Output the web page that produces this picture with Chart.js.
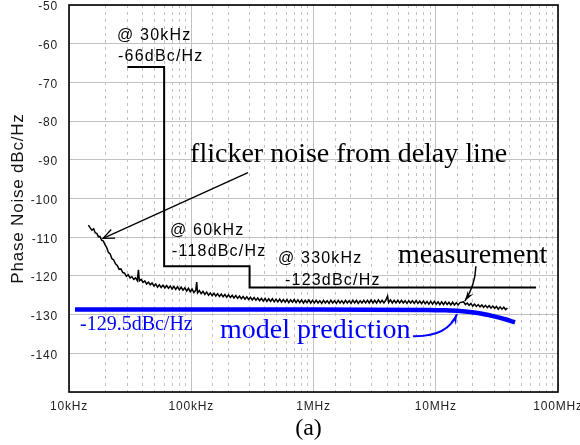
<!DOCTYPE html>
<html>
<head>
<meta charset="utf-8">
<script src="https://cdn.jsdelivr.net/npm/chart.js@4"></script>
<style>
  html, body { margin: 0; padding: 0; background: #fff; }
</style>
</head>
<body>
<canvas id="chart" width="580" height="445"></canvas>
<script>
// ===== DATA =====
// x ticks (Hz) and their labels
const xTickValues = [1e4, 1e5, 1e6, 1e7, 1e8];
const xTickLabels = ["10kHz", "100kHz", "1MHz", "10MHz", "100MHz"];

// spec mask (step line)
const maskFreq = [30e3, 60e3, 60e3, 300e3, 300e3, 66e6];
const maskDb = [-66, -66, -117.5, -117.5, -123, -123];

// model prediction
const modelKHz = [11.2, 1000, 8500, 12000, 15800, 22000, 29400, 37000, 44500];
const modelDb = [-128.7, -128.7, -128.8, -128.9, -129.1, -129.6, -130.4, -131.2, -132.0];

const measKHz = [
  14.4, 14.9, 15.4, 15.9, 16.4, 16.9, 17.4, 17.9, 18.5, 19.1, 19.7, 20.3, 21.0, 21.7, 22.4, 23.2,
  24.0, 24.8, 25.7, 26.6, 27.5, 28.5, 29.5, 30.5, 31.6, 32.7, 33.8, 35.0, 36.2, 37.0, 37.6, 38.9,
  40.3, 41.7, 43.1, 44.6, 46.2, 47.8, 49.5, 51.2, 53.0, 54.8, 56.7, 58.7, 60.8, 62.9, 65.1, 67.4,
  69.7, 72.1, 74.6, 77.2, 79.9, 82.7, 85.6, 88.6, 91.7, 94.9, 98.2, 101.6, 105.1, 108.8, 110.8, 112.6,
  116.5, 120.6, 124.8, 129.2, 133.7, 138.4, 143.2, 148.2, 153.4, 158.7, 164.3, 170.0, 176.0, 182.1,
  188.5, 195.1, 201.9, 209.0, 216.3, 223.8, 231.6, 239.7, 248.1, 256.8, 265.8, 275.1, 284.7, 294.7,
  305.0, 315.7, 326.7, 338.1, 350.0, 362.2, 374.9, 388.0, 401.6, 415.6, 430.2, 445.2, 460.8, 476.9,
  493.6, 510.9, 528.8, 547.3, 566.4, 586.2, 606.7, 627.9, 649.9, 672.6, 696.2, 720.5, 745.7, 771.8,
  798.8, 826.8, 855.7, 885.6, 916.6, 948.7, 981.9, 1016, 1052, 1089, 1127, 1167, 1208, 1250, 1294,
  1340, 1387, 1435, 1486, 1538, 1592, 1648, 1705, 1765, 1827, 1891, 1957, 2026, 2097, 2170, 2246,
  2325, 2407, 2491, 2578, 2669, 2762, 2859, 2959, 3063, 3170, 3281, 3396, 3515, 3638, 3766, 3898,
  4035, 4120, 4264, 4413, 4568, 4728, 4894, 5065, 5243, 5426, 5616, 5813, 6017, 6228, 6446, 6672,
  6906, 7148, 7398, 7657, 7926, 8203, 8491, 8788, 9096, 9414, 9744, 10085, 10438, 10804, 11182, 11573,
  11978, 12397, 12831, 13280, 13745, 14226, 14724, 15239, 15773, 16325, 16896, 17488, 18100, 18733,
  19389, 20067, 20770, 21497, 22249, 23028, 23834, 24668, 25531, 26425, 27350, 28307, 29298, 30323,
  31385, 32483, 33620, 34797, 36015, 37275, 38580
];
const measDb = [
  -106.9, -107.6, -108.2, -107.8, -108.9, -109.0, -109.9, -109.8, -110.8, -111.0, -111.9, -112.6, -113.9, -114.3, -115.5, -115.9,
  -116.9, -117.3, -118.3, -118.2, -119.1, -119.3, -120.1, -119.7, -120.5, -120.2, -120.9, -120.5, -121.2, -118.4, -121.3, -120.9,
  -121.7, -121.3, -122.1, -121.6, -122.3, -121.8, -122.6, -122.1, -122.9, -122.3, -123.0, -122.4, -123.1, -122.5, -123.2, -122.6,
  -123.4, -122.7, -123.5, -122.8, -123.6, -122.9, -123.7, -123.1, -123.9, -123.2, -124.1, -123.4, -124.3, -123.7, -121.6, -124.4,
  -123.8, -124.6, -124.0, -124.8, -124.2, -125.0, -124.4, -125.1, -124.5, -125.2, -124.6, -125.3, -124.7, -125.4,
  -124.8, -125.5, -124.9, -125.6, -125.0, -125.7, -125.1, -125.8, -125.2, -125.9, -125.3, -126.0, -125.4, -126.1,
  -125.5, -126.2, -125.6, -126.3, -125.7, -126.4, -125.8, -126.5, -125.8, -126.6, -125.9, -126.6, -125.9, -126.7,
  -126.0, -126.7, -126.0, -126.8, -126.1, -126.8, -126.1, -126.9, -126.2, -126.8, -126.1, -126.9, -126.2, -126.9,
  -126.2, -127.0, -126.3, -126.9, -126.2, -127.0, -126.3, -127.0, -126.3, -127.0, -126.4, -127.1, -126.3, -127.0, -126.4,
  -127.1, -126.3, -127.0, -126.4, -127.1, -126.3, -127.0, -126.4, -127.1, -126.3, -127.0, -126.4, -127.1, -126.3, -127.0, -126.3,
  -127.1, -126.4, -127.0, -126.3, -127.0, -126.3, -127.0, -126.2, -127.0, -126.3, -127.0, -126.2, -126.9, -126.3, -127.0, -126.3,
  -125.2, -126.9, -126.2, -127.0, -126.3, -127.0, -126.3, -127.0, -126.3, -127.0, -126.4, -127.1, -126.4, -127.0, -126.4, -127.1,
  -126.4, -127.1, -126.5, -127.2, -126.5, -127.2, -126.6, -127.3, -126.6, -127.3, -126.6, -127.3, -126.7, -127.4, -126.7, -127.4,
  -126.7, -127.4, -126.8, -127.5, -126.8, -127.5, -126.9, -127.5, -126.9, -126.8, -126.7, -127.4, -127.0, -127.6,
  -127.1, -127.8, -127.3, -127.9, -127.4, -128.0, -127.5, -128.1, -127.6, -128.2, -127.7, -128.3, -127.8, -128.4,
  -127.9, -128.6, -128.0, -128.6, -128.1, -128.7, -128.3
];

// ===== ANNOTATIONS (placed in data space) =====
const SANS = '"Liberation Sans", Arial, sans-serif';
const SERIF = '"Liberation Serif", "Times New Roman", serif';
const notes = [
  { text: "@ 30kHz", f: 24.7e3, db: -58.0, font: "16px " + SANS, color: "#000", base: "middle", sp: "1.2px" },
  { text: "-66dBc/Hz", f: 25.2e3, db: -63.4, font: "16px " + SANS, color: "#000", base: "middle", sp: "1.2px" },
  { text: "@ 60kHz", f: 67e3, db: -108.25, font: "16px " + SANS, color: "#000", base: "middle", sp: "1.2px" },
  { text: "-118dBc/Hz", f: 69.6e3, db: -113.7, font: "16px " + SANS, color: "#000", base: "middle", sp: "1.2px" },
  { text: "@ 330kHz", f: 512e3, db: -115.5, font: "16px " + SANS, color: "#000", base: "middle", sp: "1.2px" },
  { text: "-123dBc/Hz", f: 585e3, db: -121.1, font: "16px " + SANS, color: "#000", base: "middle", sp: "1.2px" },
  { text: "flicker noise from delay line", f: 97.8e3, db: -90.5, font: "28px " + SERIF, color: "#000", base: "alphabetic", sp: "0px" },
  { text: "measurement", f: 4.91e6, db: -116.75, font: "28px " + SERIF, color: "#000", base: "alphabetic", sp: "0px" },
  { text: "model prediction", f: 172e3, db: -136.1, font: "28px " + SERIF, color: "#0000ff", base: "alphabetic", sp: "0px" },
  { text: "-129.5dBc/Hz", f: 12.3e3, db: -134.0, font: "20px " + SERIF, color: "#0000ff", base: "alphabetic", sp: "0px" }
];
const arrows = [
  { pts: [[291e3, -93.3], [19.0e3, -110.3]], color: "#000", width: 1.3, filled: false },
  { pts: [[21.3e6, -117.5], [21.0e6, -122.5], [17.3e6, -126.5]], color: "#000", width: 1.5, filled: true },
  { pts: [[6.52e6, -135.6], [12.5e6, -135.8], [14.9e6, -129.9]], color: "#0000ff", width: 2, filled: true }
];

function isDecade(v) {
  let l = Math.log10(v);
  return Math.abs(l - Math.round(l)) < 1e-6;
}

function drawArrow(ctx, p, color, width, filled) {
  ctx.strokeStyle = color;
  ctx.fillStyle = color;
  ctx.lineWidth = width;
  ctx.beginPath();
  ctx.moveTo(p[0][0], p[0][1]);
  if (p.length === 3) ctx.quadraticCurveTo(p[1][0], p[1][1], p[2][0], p[2][1]);
  else ctx.lineTo(p[1][0], p[1][1]);
  ctx.stroke();

  let tip = p[p.length - 1], prev = p[p.length - 2];
  let a = Math.atan2(tip[1] - prev[1], tip[0] - prev[0]);
  let len = filled ? 11 : 12, spread = filled ? 0.3 : 0.4;
  let l = [tip[0] - len * Math.cos(a - spread), tip[1] - len * Math.sin(a - spread)];
  let r = [tip[0] - len * Math.cos(a + spread), tip[1] - len * Math.sin(a + spread)];
  ctx.beginPath();
  if (filled) {
    let n = [tip[0] - len * 0.6 * Math.cos(a), tip[1] - len * 0.6 * Math.sin(a)];
    ctx.moveTo(tip[0], tip[1]);
    ctx.lineTo(l[0], l[1]);
    ctx.lineTo(n[0], n[1]);
    ctx.lineTo(r[0], r[1]);
    ctx.closePath();
    ctx.fill();
  } else {
    ctx.moveTo(l[0], l[1]);
    ctx.lineTo(tip[0], tip[1]);
    ctx.lineTo(r[0], r[1]);
    ctx.stroke();
  }
}

// ===== PLUGIN: background, frame, labels, arrows =====
const overlay = {
  id: "overlay",
  beforeDraw(chart) {
    let ctx = chart.ctx;
    ctx.fillStyle = "#fff";
    ctx.fillRect(0, 0, chart.width, chart.height);
    ctx.letterSpacing = "0.8px";
  },
  afterDatasetsDraw(chart) {
    let { ctx, chartArea: a, scales: { x, y } } = chart;
    ctx.save();
    ctx.strokeStyle = "#000";
    ctx.lineWidth = 1.6;
    ctx.strokeRect(a.left, a.top, a.right - a.left, a.bottom - a.top);

    notes.forEach(n => {
      ctx.font = n.font;
      ctx.fillStyle = n.color;
      ctx.textAlign = "left";
      ctx.textBaseline = n.base;
      ctx.letterSpacing = n.sp;
      ctx.fillText(n.text, x.getPixelForValue(n.f), y.getPixelForValue(n.db));
    });

    arrows.forEach(ar => {
      let p = ar.pts.map(q => [x.getPixelForValue(q[0]), y.getPixelForValue(q[1])]);
      drawArrow(ctx, p, ar.color, ar.width, ar.filled);
    });

    ctx.letterSpacing = "0px";
    ctx.font = "24px " + SERIF;
    ctx.fillStyle = "#000";
    ctx.textAlign = "center";
    ctx.textBaseline = "alphabetic";
    ctx.fillText("(a)", (a.left + a.right) / 2 - 5, chart.height - 10);
    ctx.restore();
  }
};

// ===== CHART =====
new Chart(document.getElementById("chart"), {
  type: "line",
  data: {
    datasets: [
      {
        label: "mask",
        data: maskFreq.map((f, i) => ({ x: f, y: maskDb[i] })),
        borderColor: "#000",
        borderWidth: 2,
        pointRadius: 0,
        tension: 0
      },
      {
        label: "measurement",
        data: measKHz.map((f, i) => ({ x: f * 1e3, y: measDb[i] })),
        borderColor: "#000",
        borderWidth: 1.5,
        pointRadius: 0,
        tension: 0
      },
      {
        label: "model prediction",
        data: modelKHz.map((f, i) => ({ x: f * 1e3, y: modelDb[i] })),
        borderColor: "#0000ff",
        borderWidth: 4.5,
        pointRadius: 0,
        cubicInterpolationMode: "monotone"
      }
    ]
  },
  options: {
    responsive: false,
    animation: false,
    events: [],
    layout: { padding: { top: 5, right: 22, bottom: 0, left: 0 } },
    plugins: { legend: { display: false }, tooltip: { enabled: false } },
    scales: {
      x: {
        type: "logarithmic",
        min: 1e4,
        max: 1e8,
        grid: { color: "#c2c2c2", lineWidth: 1, drawTicks: false },
        border: {
          display: false,
          dash: ctx => (ctx.tick && !isDecade(ctx.tick.value)) ? [3, 4] : []
        },
        ticks: {
          autoSkip: false,
          maxRotation: 0,
          padding: 7,
          color: "#222",
          font: { family: SANS, size: 12 },
          callback: v => {
            let i = xTickValues.findIndex(t => Math.abs(t - v) / t < 1e-6);
            return i >= 0 ? xTickLabels[i] : "";
          }
        },
        afterFit: s => { s.height = 53; s.paddingLeft = 0; s.paddingRight = 0; }
      },
      y: {
        min: -150,
        max: -50,
        grid: { color: "#c2c2c2", lineWidth: 1, drawTicks: false },
        border: { display: false },
        ticks: {
          stepSize: 10,
          padding: 11,
          labelOffset: 2,
          color: "#222",
          font: { family: SANS, size: 12 },
          callback: v => v === -150 ? "" : String(v)
        },
        title: {
          display: true,
          text: "Phase Noise dBc/Hz",
          color: "#111",
          font: { family: SANS, size: 17 },
          padding: { top: 8, bottom: 0 }
        },
        afterFit: s => { s.width = 69; s.paddingTop = 0; s.paddingBottom = 0; }
      }
    }
  },
  plugins: [overlay]
});
</script>
</body>
</html>
